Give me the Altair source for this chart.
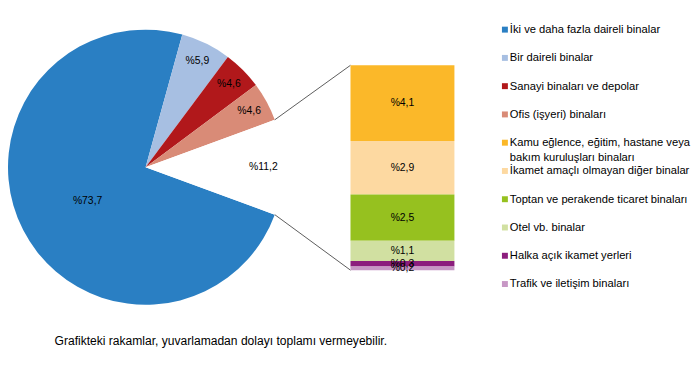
import math
import altair as alt
import pandas as pd

# ---- data ----
pie_cats = ["İki ve daha fazla daireli binalar", "Bir daireli binalar",
            "Sanayi binaları ve depolar", "Ofis (işyeri) binaları", "Diğer"]
pie_vals = [73.7, 5.9, 4.6, 4.6, 11.2]

bar_cats = ["Kamu eğlence, eğitim, hastane veya bakım kuruluşları binaları",
            "İkamet amaçlı olmayan diğer binalar",
            "Toptan ve perakende ticaret binaları",
            "Otel vb. binalar",
            "Halka açık ikamet yerleri",
            "Trafik ve iletişim binaları"]
bar_vals = [4.1, 2.9, 2.5, 1.1, 0.3, 0.2]

legend_cats = pie_cats[:4] + bar_cats
legend_text = pie_cats[:4] + ["Kamu eğlence, eğitim, hastane veya\nbakım kuruluşları binaları"] + bar_cats[1:]

palette = ["#2A7FC3", "#A7BFE2", "#B1181B", "#D98B77",
           "#FBB829", "#FDD9A1", "#96C11F", "#D1E0A1", "#8C1D7D", "#C797C5"]

footnote = "Grafikteki rakamlar, yuvarlamadan dolayı toplamı vermeyebilir."

# ---- layout constants ----
FONT = "Liberation Sans"
CX, CY, R = 137, 159, 139
BAR_X0, BAR_X1, BAR_TOP, BAR_BOT = 344, 449, 56, 263

color_scale = alt.Scale(domain=legend_cats + ["Diğer"], range=palette + ["#ffffff"])
label_expr = "'%' + replace(format(datum.val, '.1f'), '.', ',')"

# ---- pie ----
pie_df = pd.DataFrame({"cat": pie_cats, "val": pie_vals, "ord": list(range(len(pie_cats)))})
pie_total = sum(pie_vals)
start = math.pi / 2 + pie_vals[-1] / pie_total * math.pi
theta_scale = alt.Scale(domain=[0, pie_total], range=[start, start + 2 * math.pi])

arcs = alt.Chart(pie_df).mark_arc(outerRadius=R).encode(
    theta=alt.Theta("val:Q", stack=True, scale=theta_scale),
    order=alt.Order("ord:Q"),
    x=alt.value(CX), y=alt.value(CY),
    color=alt.Color("cat:N", scale=color_scale, legend=None))

pie_lab_base = alt.Chart(pie_df).transform_window(
    cum="sum(val)", sort=[alt.SortField("ord", order="ascending")]
).transform_calculate(
    mid="datum.cum - datum.val / 2", lab=label_expr
).encode(
    theta=alt.Theta("mid:Q", scale=theta_scale, stack=None),
    x=alt.value(CX), y=alt.value(CY), text="lab:N")

pie_lab_big = pie_lab_base.transform_filter(alt.datum.ord == 0).mark_text(
    radius=67, dy=4, dx=1, font=FONT, fontSize=10.5, color="black")
pie_lab_small = pie_lab_base.transform_filter(alt.datum.ord > 0).mark_text(
    radius=119, font=FONT, fontSize=10.5, color="black")

# ---- stacked bar ----
bar_df = pd.DataFrame({"cat": bar_cats, "val": bar_vals, "ord": list(range(len(bar_cats)))})
total = sum(bar_vals)
yscale = alt.Scale(domain=[0, total], range=[BAR_BOT, BAR_TOP], nice=False, zero=True)

bar_base = alt.Chart(bar_df).transform_window(
    cum="sum(val)", sort=[alt.SortField("ord", order="descending")]
).transform_calculate(
    low="datum.cum - datum.val", mid="datum.cum - datum.val / 2", lab=label_expr
)

bars = bar_base.mark_rect().encode(
    x=alt.value(BAR_X0), x2=alt.value(BAR_X1),
    y=alt.Y("cum:Q", scale=yscale, axis=None), y2="low:Q",
    color=alt.Color("cat:N", scale=color_scale, legend=None))

bar_labels = bar_base.mark_text(font=FONT, fontSize=10.5, color="black").encode(
    x=alt.value((BAR_X0 + BAR_X1) / 2),
    y=alt.Y("mid:Q", scale=yscale, axis=None),
    text="lab:N")

# ---- connector lines ----
half = pie_vals[-1] / pie_total * math.pi
ex = CX + R * math.cos(half)
conn_df = pd.DataFrame({
    "x": [ex, ex],
    "y": [CY - R * math.sin(half), CY + R * math.sin(half)],
    "x2": [BAR_X0, BAR_X0],
    "y2": [BAR_TOP, BAR_BOT],
})
connectors = alt.Chart(conn_df).mark_rule(color="#333333", strokeWidth=0.8).encode(
    x=alt.X("x:Q", scale=None), y=alt.Y("y:Q", scale=None),
    x2="x2:Q", y2="y2:Q")

# ---- legend ----
leg_df = pd.DataFrame({"cat": legend_cats, "txt": legend_text})
leg_y = alt.Y("cat:N", scale=alt.Scale(type="point", domain=legend_cats, range=[20, 277], padding=0),
              axis=None)
leg_sq = alt.Chart(leg_df).mark_square(size=36, opacity=1).encode(
    x=alt.value(500), y=leg_y,
    color=alt.Color("cat:N", scale=color_scale, legend=None))
leg_txt = alt.Chart(leg_df).mark_text(
    align="left", baseline="top", dy=-5.5, lineBreak="\n", lineHeight=15,
    font=FONT, fontSize=11.3, color="black").encode(
    x=alt.value(505), y=leg_y, text="txt:N")

# ---- footnote ----
foot = alt.Chart(pd.DataFrame({"t": [footnote]})).mark_text(
    align="left", baseline="middle", font=FONT, fontSize=12.2, color="black").encode(
    x=alt.value(45), y=alt.value(335), text="t:N")

chart = alt.layer(arcs, pie_lab_big, pie_lab_small, connectors, bars, bar_labels,
                  leg_sq, leg_txt, foot).resolve_scale(y="independent").properties(
    width=683, height=362, padding=0).configure_view(stroke=None)

chart.save("out.html", embed_options={"renderer": "svg", "actions": False})
